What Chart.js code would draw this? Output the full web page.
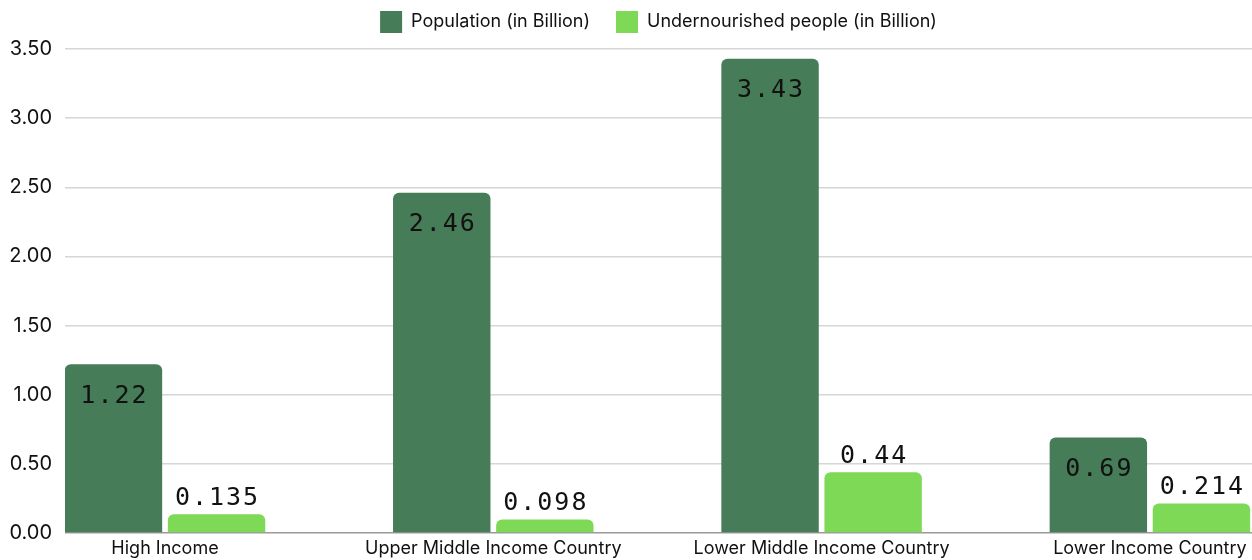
<!DOCTYPE html>
<html>
<head>
<meta charset="utf-8">
<script src="https://cdn.jsdelivr.net/npm/chart.js@4"></script>
<style>
  html, body { margin: 0; padding: 0; background: #fff; }
  #wrap { width: 1252px; height: 560px; }
</style>
</head>
<body>
<div id="wrap"><canvas id="c"></canvas></div>
<script>
const categories = ['High Income', 'Upper Middle Income Country', 'Lower Middle Income Country', 'Lower Income Country'];
const seriesNames = ['Population (in Billion)', 'Undernourished people (in Billion)'];
const population = [1.22, 2.46, 3.43, 0.69];
const undernourished = [0.135, 0.098, 0.44, 0.214];
const populationLabels = ['1.22', '2.46', '3.43', '0.69'];
const undernourishedLabels = ['0.135', '0.098', '0.44', '0.214'];
const yTicks = [0, 0.5, 1, 1.5, 2, 2.5, 3, 3.5];

const toPoints = arr => arr.map((v, i) => ({ x: i, y: v }));

const LEGEND_HEIGHT = 64;
const legendFix = {
  id: 'legendFix',
  beforeLayout(chart) {
    const lg = chart.legend;
    if (lg && !lg.__patched) {
      const orig = lg.fit;
      lg.fit = function () { orig.call(this); this.height = LEGEND_HEIGHT; };
      lg.__patched = true;
    }
  }
};

const valueLabels = {
  id: 'valueLabels',
  afterDatasetsDraw(chart) {
    const ctx = chart.ctx;
    ctx.save();
    ctx.font = '25px "DejaVu Sans Mono", monospace';
    ctx.letterSpacing = '2px';
    ctx.fillStyle = '#111';
    ctx.textAlign = 'center';
    ctx.textBaseline = 'middle';
    chart.data.datasets.forEach((ds, di) => {
      const meta = chart.getDatasetMeta(di);
      meta.data.forEach((bar, i) => {
        const txt = ds.valueText[i];
        const y = di === 0 ? bar.y + 32 : bar.y - 16;
        ctx.fillText(txt, bar.x + 1, y);
      });
    });
    ctx.restore();
  }
};

new Chart(document.getElementById('c'), {
  type: 'bar',
  data: {
    datasets: [
      { label: seriesNames[0], data: toPoints(population), valueText: populationLabels,
        backgroundColor: '#467c58', borderRadius: 6, borderSkipped: 'start',
        barPercentage: 0.945, categoryPercentage: 0.628 },
      { label: seriesNames[1], data: toPoints(undernourished), valueText: undernourishedLabels,
        backgroundColor: '#7ed957', borderRadius: 6, borderSkipped: 'start',
        barPercentage: 0.945, categoryPercentage: 0.628 }
    ]
  },
  options: {
    responsive: true,
    maintainAspectRatio: false,
    animation: false,
    layout: { padding: { left: 0, right: 0, top: -15, bottom: 0 } },
    plugins: {
      legend: {
        position: 'top',
        fullSize: false,
        labels: {
          boxWidth: 22, boxHeight: 22, padding: 26, color: '#111',
          font: { family: 'Inter', size: 18 }
        }
      },
      tooltip: { enabled: false }
    },
    scales: {
      x: {
        type: 'linear',
        offset: false,
        min: -0.3046,
        max: 3.311,
        grid: { display: false, offset: false, drawTicks: false },
        border: { display: false },
        afterBuildTicks: s => { s.ticks = categories.map((_, i) => ({ value: i })); },
        afterFit: s => { s.height = 27; },
        ticks: {
          autoSkip: false, maxRotation: 0, padding: 5, color: '#111',
          font: { family: 'Inter', size: 18 },
          callback: v => categories[v] ?? ''
        }
      },
      y: {
        min: 0, max: 3.5,
        afterBuildTicks: s => { s.ticks = yTicks.map(v => ({ value: v })); },
        afterFit: s => { s.width = 65; },
        grid: {
          color: c => c.tick && c.tick.value === 0 ? '#9a9a9a' : '#d6d6d6',
          lineWidth: 1.5,
          drawTicks: false
        },
        border: { display: false },
        ticks: {
          padding: 13, color: '#111',
          font: { family: 'Inter', size: 20 },
          callback: v => Number(v).toFixed(2)
        }
      }
    }
  },
  plugins: [legendFix, valueLabels]
});
</script>
</body>
</html>
